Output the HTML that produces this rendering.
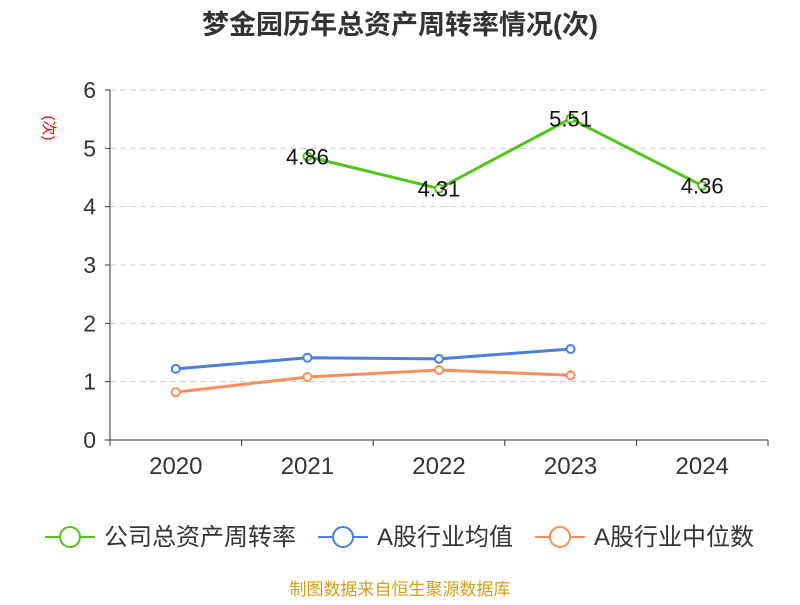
<!DOCTYPE html>
<html><head><meta charset="utf-8"><style>
body{margin:0;background:#fff;width:800px;height:600px;overflow:hidden;font-family:"Liberation Sans","Noto Sans CJK SC",sans-serif}
</style></head><body>
<svg id="c" width="800" height="600" xmlns="http://www.w3.org/2000/svg" style="font-family:'Liberation Sans','Noto Sans CJK SC',sans-serif">
<text x="400" y="34" text-anchor="middle" font-size="27" font-weight="bold" fill="#333">梦金园历年总资产周转率情况(次)</text>
<text transform="translate(44,128) rotate(90)" text-anchor="middle" font-size="15" fill="#e00">(次)</text>
<g id="grid"></g><g id="series"></g>
<g>
<g><line x1="45" y1="537" x2="95" y2="537" stroke="#52c41a" stroke-width="2"/><circle cx="70" cy="537" r="10" fill="#fff" stroke="#52c41a" stroke-width="2"/><text x="104" y="545" font-size="24" fill="#333">公司总资产周转率</text></g>
<g><line x1="318" y1="537" x2="368" y2="537" stroke="#4a7fe0" stroke-width="2"/><circle cx="343" cy="537" r="10" fill="#fff" stroke="#4a7fe0" stroke-width="2"/><text x="377" y="545" font-size="24" fill="#333">A股行业均值</text></g>
<g><line x1="535" y1="537" x2="585" y2="537" stroke="#ff8c5a" stroke-width="2"/><circle cx="560" cy="537" r="10" fill="#fff" stroke="#ff8c5a" stroke-width="2"/><text x="594" y="545" font-size="24" fill="#333">A股行业中位数</text></g>
</g>
<text x="400" y="595" text-anchor="middle" font-size="17" fill="#d4a017">制图数据来自恒生聚源数据库</text>
</svg>
<script>
const categories=["2020","2021","2022","2023","2024"];
const yTicks=[0,1,2,3,4,5,6];
const company=[null,4.86,4.31,5.51,4.36];
const average=[1.22,1.41,1.39,1.56,null];
const median=[0.82,1.08,1.20,1.11,null];
const NS="http://www.w3.org/2000/svg";
const x0=110,x1=768,y0=440,y1=90,ymax=6;
const bw=(x1-x0)/categories.length;
const X=i=>x0+bw*(i+0.5);
const Y=v=>y0-(v/ymax)*(y0-y1);
function mk(p,t,a){const e=document.createElementNS(NS,t);for(const k in a)e.setAttribute(k,a[k]);p.appendChild(e);return e;}
const g=document.getElementById('grid');
yTicks.forEach(v=>{
 if(v>0){const l=mk(g,'line',{x1:x0,x2:x1,y1:Y(v),y2:Y(v),stroke:'#ccc','stroke-dasharray':'6,4'});
 
 }
 const tk=mk(g,'line',{x1:x0-5,x2:x0,y1:Y(v),y2:Y(v),stroke:'#333'});
 
 
 const t=mk(g,'text',{x:x0-14,y:Y(v)+8,'text-anchor':'end','font-size':23,fill:'#333'});t.textContent=v;
 
 
});
const ya=mk(g,'line',{x1:x0,x2:x0,y1:y1,y2:y0,stroke:'#333'});


const xa=mk(g,'line',{x1:x0,x2:x1,y1:y0,y2:y0,stroke:'#333'});


for(let i=0;i<=categories.length;i++){const t=mk(g,'line',{x1:x0+bw*i,x2:x0+bw*i,y1:y0,y2:y0+6,stroke:'#333'});
 
 }
categories.forEach((c,i)=>{const t=mk(g,'text',{x:X(i),y:474,'text-anchor':'middle','font-size':24,fill:'#333'});t.textContent=c;
 
 });
const s=document.getElementById('series');
function draw(data,color,name,labels){
 const pts=[];data.forEach((v,i)=>{if(v!==null)pts.push([X(i),Y(v),v]);});
 const pl=mk(s,'polyline',{points:pts.map(p=>p[0]+','+p[1]).join(' '),fill:'none',stroke:color,'stroke-width':3});
 
 
 pts.forEach(p=>{const c=mk(s,'circle',{cx:p[0],cy:p[1],r:4,fill:'#fff',stroke:color,'stroke-width':2});
  
  
  if(labels){const t=mk(s,'text',{x:p[0],y:p[1]+8,'text-anchor':'middle','font-size':22,fill:'#111'});t.textContent=p[2].toFixed(2);
   
   }
 });
}
draw(median,'#ff8c5a','median',false);
draw(average,'#4a7fe0','average',false);
draw(company,'#52c41a','company',true);
</script>
</body></html>
